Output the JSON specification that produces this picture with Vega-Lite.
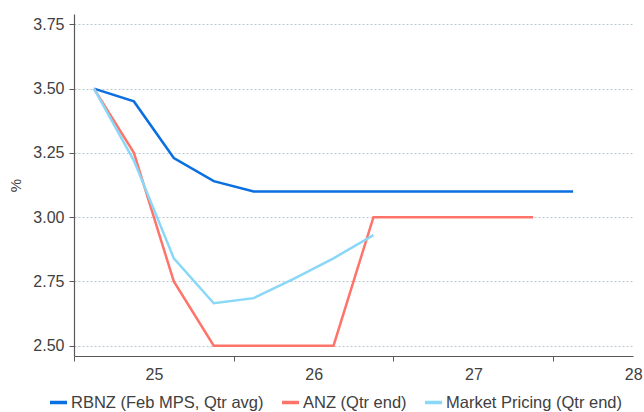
{
  "$schema": "https://vega.github.io/schema/vega-lite/v6.json",
  "autosize": "none",
  "width": 559,
  "height": 342,
  "padding": {"left": 74, "top": 14, "right": 11, "bottom": 56},
  "background": "white",
  "config": {
    "font": "Liberation Sans",
    "view": {"stroke": null}
  },
  "data": {
    "values": [
      {"t": 24.625, "series": "RBNZ (Feb MPS, Qtr avg)", "v": 3.50},
      {"t": 24.875, "series": "RBNZ (Feb MPS, Qtr avg)", "v": 3.45},
      {"t": 25.125, "series": "RBNZ (Feb MPS, Qtr avg)", "v": 3.23},
      {"t": 25.375, "series": "RBNZ (Feb MPS, Qtr avg)", "v": 3.14},
      {"t": 25.625, "series": "RBNZ (Feb MPS, Qtr avg)", "v": 3.10},
      {"t": 25.875, "series": "RBNZ (Feb MPS, Qtr avg)", "v": 3.10},
      {"t": 26.125, "series": "RBNZ (Feb MPS, Qtr avg)", "v": 3.10},
      {"t": 26.375, "series": "RBNZ (Feb MPS, Qtr avg)", "v": 3.10},
      {"t": 26.625, "series": "RBNZ (Feb MPS, Qtr avg)", "v": 3.10},
      {"t": 26.875, "series": "RBNZ (Feb MPS, Qtr avg)", "v": 3.10},
      {"t": 27.125, "series": "RBNZ (Feb MPS, Qtr avg)", "v": 3.10},
      {"t": 27.375, "series": "RBNZ (Feb MPS, Qtr avg)", "v": 3.10},
      {"t": 27.625, "series": "RBNZ (Feb MPS, Qtr avg)", "v": 3.10},
      {"t": 24.625, "series": "ANZ (Qtr end)", "v": 3.50},
      {"t": 24.875, "series": "ANZ (Qtr end)", "v": 3.25},
      {"t": 25.125, "series": "ANZ (Qtr end)", "v": 2.75},
      {"t": 25.375, "series": "ANZ (Qtr end)", "v": 2.50},
      {"t": 25.625, "series": "ANZ (Qtr end)", "v": 2.50},
      {"t": 25.875, "series": "ANZ (Qtr end)", "v": 2.50},
      {"t": 26.125, "series": "ANZ (Qtr end)", "v": 2.50},
      {"t": 26.375, "series": "ANZ (Qtr end)", "v": 3.00},
      {"t": 26.625, "series": "ANZ (Qtr end)", "v": 3.00},
      {"t": 26.875, "series": "ANZ (Qtr end)", "v": 3.00},
      {"t": 27.125, "series": "ANZ (Qtr end)", "v": 3.00},
      {"t": 27.375, "series": "ANZ (Qtr end)", "v": 3.00},
      {"t": 24.625, "series": "Market Pricing (Qtr end)", "v": 3.50},
      {"t": 24.875, "series": "Market Pricing (Qtr end)", "v": 3.22},
      {"t": 25.125, "series": "Market Pricing (Qtr end)", "v": 2.84},
      {"t": 25.375, "series": "Market Pricing (Qtr end)", "v": 2.665},
      {"t": 25.625, "series": "Market Pricing (Qtr end)", "v": 2.685},
      {"t": 25.875, "series": "Market Pricing (Qtr end)", "v": 2.76},
      {"t": 26.125, "series": "Market Pricing (Qtr end)", "v": 2.84},
      {"t": 26.375, "series": "Market Pricing (Qtr end)", "v": 2.93}
    ]
  },
  "mark": {"type": "line", "strokeWidth": 2.5, "clip": true},
  "encoding": {
    "x": {
      "field": "t",
      "type": "quantitative",
      "scale": {"domain": [24.5, 28], "nice": false, "zero": false},
      "axis": {
        "title": null,
        "values": [24.5, 25.5, 26.5, 27.5],
        "labelExpr": "format(datum.value + 0.5, 'd')",
        "labelOffset": 80,
        "labelBound": false,
        "labelFlush": false,
        "labelOverlap": false,
        "grid": false,
        "domainColor": "#595959",
        "domainWidth": 1.2,
        "tickColor": "#595959",
        "tickSize": 5,
        "labelFontSize": 16,
        "labelColor": "#404040",
        "labelPadding": 5
      }
    },
    "y": {
      "field": "v",
      "type": "quantitative",
      "scale": {"domain": [2.46, 3.79], "nice": false, "zero": false},
      "axis": {
        "title": "%",
        "titleFontSize": 15,
        "titleFontWeight": "normal",
        "titleColor": "#404040",
        "titlePadding": 9,
        "values": [2.5, 2.75, 3.0, 3.25, 3.5, 3.75],
        "format": ".2f",
        "labelFontSize": 16,
        "labelColor": "#404040",
        "labelPadding": 5,
        "domainColor": "#595959",
        "domainWidth": 1.2,
        "tickColor": "#595959",
        "tickSize": 5,
        "grid": true,
        "gridColor": "#b8c8d0",
        "gridDash": [2, 2],
        "gridWidth": 1
      }
    },
    "color": {
      "field": "series",
      "type": "nominal",
      "sort": ["RBNZ (Feb MPS, Qtr avg)", "ANZ (Qtr end)", "Market Pricing (Qtr end)"],
      "scale": {
        "domain": ["RBNZ (Feb MPS, Qtr avg)", "ANZ (Qtr end)", "Market Pricing (Qtr end)"],
        "range": ["#0A6FE0", "#FF746A", "#8AD8F8"]
      },
      "legend": {
        "title": null,
        "orient": "none",
        "legendX": -26,
        "legendY": 378,
        "direction": "horizontal",
        "columns": 3,
        "symbolType": "stroke",
        "symbolStrokeWidth": 3.5,
        "symbolSize": 289,
        "labelFontSize": 16.5,
        "labelLimit": 0,
        "labelColor": "#404040",
        "labelOffset": 2,
        "columnPadding": 11
      }
    }
  }
}
